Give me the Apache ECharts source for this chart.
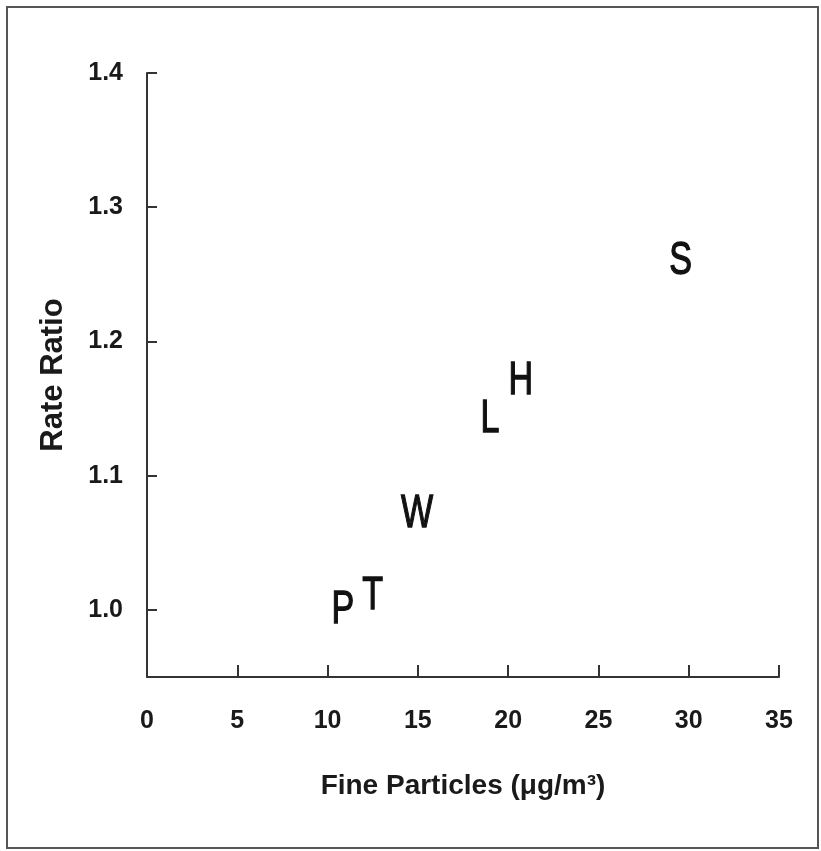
<!DOCTYPE html>
<html>
<head>
<meta charset="utf-8">
<script src="https://cdn.jsdelivr.net/npm/echarts@6/dist/echarts.min.js"></script>
<style>
  html, body { margin: 0; padding: 0; background: #fff; }
  #chart { width: 821px; height: 851px; }
</style>
</head>
<body>
<div id="chart"></div>
<script>
// cities (letters) with fine particle level and rate ratio
const cities = ['P', 'T', 'W', 'L', 'H', 'S'];
const fineParticles = [10.85, 12.5, 14.95, 19.0, 20.7, 29.55];
const rateRatio = [1.0, 1.01, 1.071, 1.142, 1.17, 1.26];
const xTicks = [0, 5, 10, 15, 20, 25, 30, 35];
const yTicks = [1.0, 1.1, 1.2, 1.3, 1.4];

const axisColor = '#333';
const font = '"Liberation Sans", Arial, sans-serif';

const chart = echarts.init(document.getElementById('chart'));

const option = {
    backgroundColor: '#fff',
    animation: false,
    graphic: [{
        type: 'rect',
        shape: {x: 7, y: 7, width: 811, height: 841},
        style: {fill: 'none', stroke: '#555', lineWidth: 2}
    }],
    grid: {left: 147, right: 42, top: 73, bottom: 174},
    xAxis: {
        type: 'value',
        min: 0,
        max: 35,
        interval: 5,
        name: 'Fine Particles (μg/m³)',
        nameLocation: 'middle',
        nameGap: 95,
        nameTextStyle: {fontFamily: font, fontSize: 28, fontWeight: 'bold', color: '#1a1a1a'},
        axisLine: {onZero: false, lineStyle: {color: axisColor, width: 2}},
        axisTick: {inside: true, length: 12, lineStyle: {color: axisColor, width: 2},
            customValues: xTicks},
        axisLabel: {customValues: xTicks, margin: 32, fontFamily: font, fontSize: 25,
            fontWeight: 'bold', color: '#1a1a1a'},
        splitLine: {show: false}
    },
    yAxis: {
        type: 'value',
        min: 0.95,
        max: 1.4,
        name: 'Rate Ratio',
        nameLocation: 'middle',
        nameGap: 78,
        nameRotate: 90,
        nameTextStyle: {fontFamily: font, fontSize: 31, fontWeight: 'bold', color: '#1a1a1a'},
        axisLine: {onZero: false, lineStyle: {color: axisColor, width: 2}},
        axisTick: {inside: true, length: 10, lineStyle: {color: axisColor, width: 2},
            customValues: yTicks},
        axisLabel: {customValues: yTicks, margin: 24, fontFamily: font, fontSize: 25,
            fontWeight: 'bold', color: '#1a1a1a', formatter: v => v.toFixed(1)},
        splitLine: {show: false}
    },
    series: [{
        type: 'custom',
        data: cities.map((c, i) => [fineParticles[i], rateRatio[i]]),
        renderItem: (params, api) => {
            const pt = api.coord([api.value(0), api.value(1)]);
            return {
                type: 'text',
                x: pt[0],
                y: pt[1],
                scaleX: 0.74,
                style: {
                    text: cities[params.dataIndex],
                    fontFamily: font,
                    fontSize: 46,
                    fill: '#111',
                    stroke: '#111',
                    lineWidth: 1.3,
                    align: 'center',
                    verticalAlign: 'middle'
                }
            };
        }
    }]
};

chart.setOption(option);
</script>
</body>
</html>
